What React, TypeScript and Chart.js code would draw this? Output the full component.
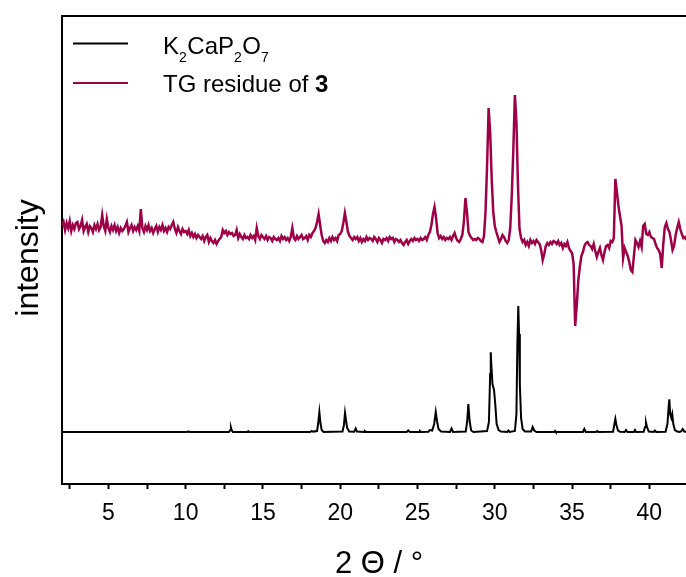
import React, { useEffect, useRef } from "react";
import { Chart, registerables } from "chart.js";

Chart.register(...registerables);

// ---------- data ----------
const X_MIN = 2;
const X_MAX = 42.37;
const Y_MIN = 0;
const Y_MAX = 468;

const xTickValues = [2.5, 5, 7.5, 10, 12.5, 15, 17.5, 20, 22.5, 25, 27.5, 30, 32.5, 35, 37.5, 40];

const seriesLabels = ["K\u2082CaP\u2082O\u2087", "TG residue of 3"];

// K2CaP2O7 reference pattern (angle, intensity)
const k2Angles = [
  2.0, 10.1, 10.17, 10.25,
  12.8, 12.88, 12.93, 12.98, 13.06,
  14.0, 14.05, 14.1,
  18.05, 18.15, 18.25, 18.5, 18.57, 18.65, 18.72, 18.8, 18.92,
  20.15, 20.24, 20.31, 20.38, 20.45, 20.58, 20.9, 21.0, 21.08, 21.55, 21.6, 21.7,
  24.3, 24.4, 24.5,
  25.1, 25.16, 25.25,
  25.7, 25.8, 25.95, 26.08, 26.18, 26.26, 26.36, 26.52,
  27.1, 27.2, 27.3,
  28.12, 28.21, 28.29, 28.37, 28.47, 28.62,
  29.5, 29.62, 29.7, 29.74, 29.78, 29.85, 29.95, 30.02, 30.12, 30.25, 30.4,
  30.8, 30.88, 30.96,
  31.3, 31.4, 31.46, 31.52, 31.57, 31.62, 31.7, 31.8, 31.95,
  32.35, 32.45, 32.55, 32.7,
  33.85, 33.9, 33.95,
  35.7, 35.79, 35.88,
  36.55, 36.63, 36.7,
  37.65, 37.73, 37.8, 37.87, 37.97, 38.1, 38.4, 38.49, 38.58, 39.0, 39.07, 39.14,
  39.63, 39.72, 39.78, 39.85, 39.96,
  40.28, 40.36, 40.44,
  41.05, 41.17, 41.25, 41.29, 41.35, 41.42, 41.48, 41.55, 41.65, 41.8, 41.95, 42.05, 42.16, 42.26, 42.5,
];
const k2Intensity = [
  52, 52, 52.6, 52,
  52, 53.8, 56.5, 53.8, 52,
  52, 52.8, 52,
  52, 53, 52.4, 53, 60, 72, 61, 54, 52,
  52.5, 59, 71, 63, 56, 52.5, 52.3, 55.5, 52.5, 52, 53, 52,
  52, 53.5, 52,
  52, 53, 52,
  52.3, 54, 53.5, 60, 72, 63, 55, 52.5,
  52, 55.5, 52,
  52.5, 62, 80, 63, 53.5, 52,
  53, 62, 110, 131.7, 118, 100, 94, 82, 60, 54, 52.5,
  52, 53.5, 52,
  53, 70, 140, 178, 150, 100, 66, 55, 52.5,
  52.5, 57, 53.5, 52,
  52, 53, 52,
  52, 55, 52,
  52, 53, 52,
  52.3, 59, 65, 59, 53.5, 52.3, 52, 54, 52, 52, 54, 52,
  52.3, 57, 61.5, 57, 52.5,
  52, 53.5, 52,
  52.3, 60, 78, 84.7, 70, 66, 70, 60, 54, 52.5, 52, 52.5, 55, 52.5, 52,
];

// TG residue of 3 — measured on a 0.1° step grid starting at 2.0°
const tgStart = 2.0;
const tgStep = 0.1;
const tgIntensity = [
  258, 262, 254, 261, 256, 263, 253, 259, 255, 261, // 2
  262, 255, 258, 264, 253, 257, 260, 252, 258, 256, // 3
  252, 259, 255, 260, 254, 257, 269, 258, 253, 265, // 4
  256, 252, 258, 254, 259, 253, 257, 251, 256, 253, // 5
  255, 258, 262, 252, 256, 259, 253, 257, 254, 258, // 6
  253, 275, 256, 252, 258, 254, 259, 253, 256, 251, // 7
  255, 258, 252, 257, 254, 259, 253, 256, 252, 257, // 8
  255, 259, 262, 255, 251, 257, 253, 250, 255, 252, // 9
  253, 250, 254, 248, 251, 247, 250, 246, 249, 247, // 10
  245, 248, 243, 247, 249, 242, 246, 243, 241, 244, // 11
  240, 243, 245, 247, 254, 251, 253, 249, 252, 250, // 12
  251, 248, 249, 254, 246, 250, 247, 245, 249, 246, // 13
  247, 245, 249, 246, 248, 244, 256, 248, 245, 249, // 14
  247, 245, 248, 244, 247, 246, 243, 247, 245, 244, // 15
  246, 243, 248, 245, 247, 244, 246, 243, 247, 256, // 16
  246, 244, 248, 245, 247, 249, 245, 246, 248, 244, // 17
  249, 247, 251, 253, 256, 262, 270, 259, 249, 243, // 18
  241, 244, 242, 246, 243, 247, 244, 246, 243, 249, // 19
  250, 253, 261, 271, 262, 252, 248, 246, 244, 247, // 20
  245, 247, 243, 246, 242, 245, 243, 247, 244, 246, // 21
  245, 243, 247, 245, 242, 246, 244, 241, 245, 244, // 22
  246, 243, 247, 245, 246, 242, 245, 244, 242, 244, // 23
  241, 239, 242, 244, 240, 243, 245, 243, 246, 244, // 24
  245, 243, 246, 244, 245, 247, 244, 249, 252, 259, // 25
  270, 277, 266, 251, 246, 248, 245, 247, 244, 246, // 26
  245, 247, 244, 248, 251, 246, 243, 242, 245, 249, // 27
  262, 286, 272, 252, 248, 246, 244, 245, 244, 246, // 28
  245, 243, 242, 248, 272, 318, 376, 352, 305, 272, // 29
  258, 252, 247, 242, 245, 249, 247, 243, 241, 244, // 30
  256, 289, 335, 389, 362, 298, 255, 246, 242, 244, // 31
  239, 242, 238, 244, 241, 243, 240, 244, 242, 240, // 32
  234, 224, 230, 238, 241, 239, 242, 240, 243, 242, // 33
  240, 243, 239, 241, 236, 240, 238, 242, 236, 233, // 34
  231, 220, 158, 178, 203, 217, 228, 232, 238, 241, // 35
  242, 239, 238, 235, 240, 233, 227, 232, 236, 229, // 36
  224, 232, 238, 239, 236, 243, 242, 246, 305, 292, // 37
  278, 268, 258, 226, 236, 232, 228, 222, 214, 212, // 38
  228, 244, 241, 237, 243, 237, 258, 260, 250, 249, // 39
  252, 247, 246, 245, 240, 236, 234, 230, 216, 240, // 40
  257, 261, 255, 252, 244, 234, 238, 249, 256, 262, // 41
  255, 250, 246, 247, 244, // 42
];

// ---------- styling ----------
const FONT = '"Liberation Sans", Arial, "DejaVu Sans", sans-serif';
const BLACK = "#000000";
const PURPLE = "#9E0048";

const framePlugin = {
  id: "frameAndLegend",
  afterDraw(chart: any) {
    const { ctx, chartArea } = chart;
    const { left, right, top } = chartArea;
    ctx.save();
    // top frame line
    ctx.strokeStyle = BLACK;
    ctx.lineWidth = 2;
    ctx.beginPath();
    ctx.moveTo(left - 1, top);
    ctx.lineTo(right, top);
    ctx.stroke();

    // legend lines
    ctx.lineWidth = 2;
    ctx.strokeStyle = BLACK;
    ctx.beginPath();
    ctx.moveTo(73, 43.5);
    ctx.lineTo(128, 43.5);
    ctx.stroke();
    ctx.strokeStyle = PURPLE;
    ctx.beginPath();
    ctx.moveTo(73, 83);
    ctx.lineTo(128, 83);
    ctx.stroke();

    // legend text 1 with subscripts
    ctx.fillStyle = BLACK;
    ctx.textAlign = "left";
    ctx.textBaseline = "alphabetic";
    const parts: [string, boolean][] = [
      ["K", false], ["2", true], ["CaP", false], ["2", true], ["O", false], ["7", true],
    ];
    let x = 163;
    for (const [t, sub] of parts) {
      ctx.font = sub ? `14px ${FONT}` : `24px ${FONT}`;
      ctx.fillText(t, x, sub ? 61.5 : 53.5);
      x += ctx.measureText(t).width + (sub ? 0.5 : 0);
    }
    // legend text 2 with bold 3
    ctx.font = `24px ${FONT}`;
    const t2 = "TG residue of ";
    ctx.fillText(t2, 163, 92);
    const w2 = ctx.measureText(t2).width;
    ctx.font = `bold 24px ${FONT}`;
    ctx.fillText("3", 163 + w2, 92);

    // y axis title
    ctx.save();
    ctx.font = `32px ${FONT}`;
    ctx.translate(38, 258);
    ctx.rotate(-Math.PI / 2);
    ctx.textAlign = "center";
    ctx.fillText("intensity", 0, 0);
    ctx.restore();

    // x axis title
    ctx.font = `31px ${FONT}`;
    ctx.textAlign = "center";
    ctx.fillText("2 \u0398 / \u00B0", 379, 573);
    ctx.restore();
  },
};

export default function App() {
  const canvasRef = useRef<HTMLCanvasElement | null>(null);

  useEffect(() => {
    if (!canvasRef.current) return;
    const k2Data = k2Angles.map((a, i) => ({ x: a, y: k2Intensity[i] }));
    const tgData = tgIntensity.map((v, i) => ({ x: +(tgStart + i * tgStep).toFixed(2), y: v }));

    const chart = new Chart(canvasRef.current, {
      type: "line",
      data: {
        datasets: [
          {
            label: seriesLabels[0],
            data: k2Data,
            borderColor: BLACK,
            borderWidth: 2,
            pointRadius: 0,
            tension: 0,
            fill: false,
          },
          {
            label: seriesLabels[1],
            data: tgData,
            borderColor: PURPLE,
            borderWidth: 2.5,
            pointRadius: 0,
            tension: 0,
            fill: false,
          },
        ],
      },
      options: {
        animation: false,
        responsive: false,
        devicePixelRatio: 1,
        parsing: false,
        normalized: true,
        layout: { padding: { top: 16, left: 0, right: 0, bottom: 0 } },
        plugins: {
          legend: { display: false },
          tooltip: { enabled: false },
          title: { display: false },
        },
        scales: {
          x: {
            type: "linear",
            min: X_MIN,
            max: X_MAX,
            afterBuildTicks: (scale: any) => {
              scale.ticks = xTickValues.map((v) => ({ value: v }));
            },
            afterFit: (scale: any) => {
              scale.height = 93;
            },
            ticks: {
              autoSkip: false,
              maxRotation: 0,
              padding: 11,
              color: BLACK,
              font: { family: FONT, size: 23 },
              callback: (v: any) => (Number(v) % 5 === 0 ? String(v) : ""),
            },
            grid: {
              drawOnChartArea: false,
              drawTicks: true,
              tickLength: 5,
              tickColor: BLACK,
              tickWidth: 2,
            },
            border: { display: true, color: BLACK, width: 2 },
          },
          y: {
            type: "linear",
            min: Y_MIN,
            max: Y_MAX,
            afterFit: (scale: any) => {
              scale.width = 62;
            },
            ticks: { display: false },
            grid: { display: false },
            border: { display: true, color: BLACK, width: 2 },
          },
        },
      },
      plugins: [framePlugin],
    });
    return () => chart.destroy();
  }, []);

  return (
    <div style={{ position: "absolute", left: 0, top: 0, width: 686, height: 577, background: "#fff" }}>
      <canvas ref={canvasRef} width={686} height={577} style={{ display: "block" }} />
    </div>
  );
}
